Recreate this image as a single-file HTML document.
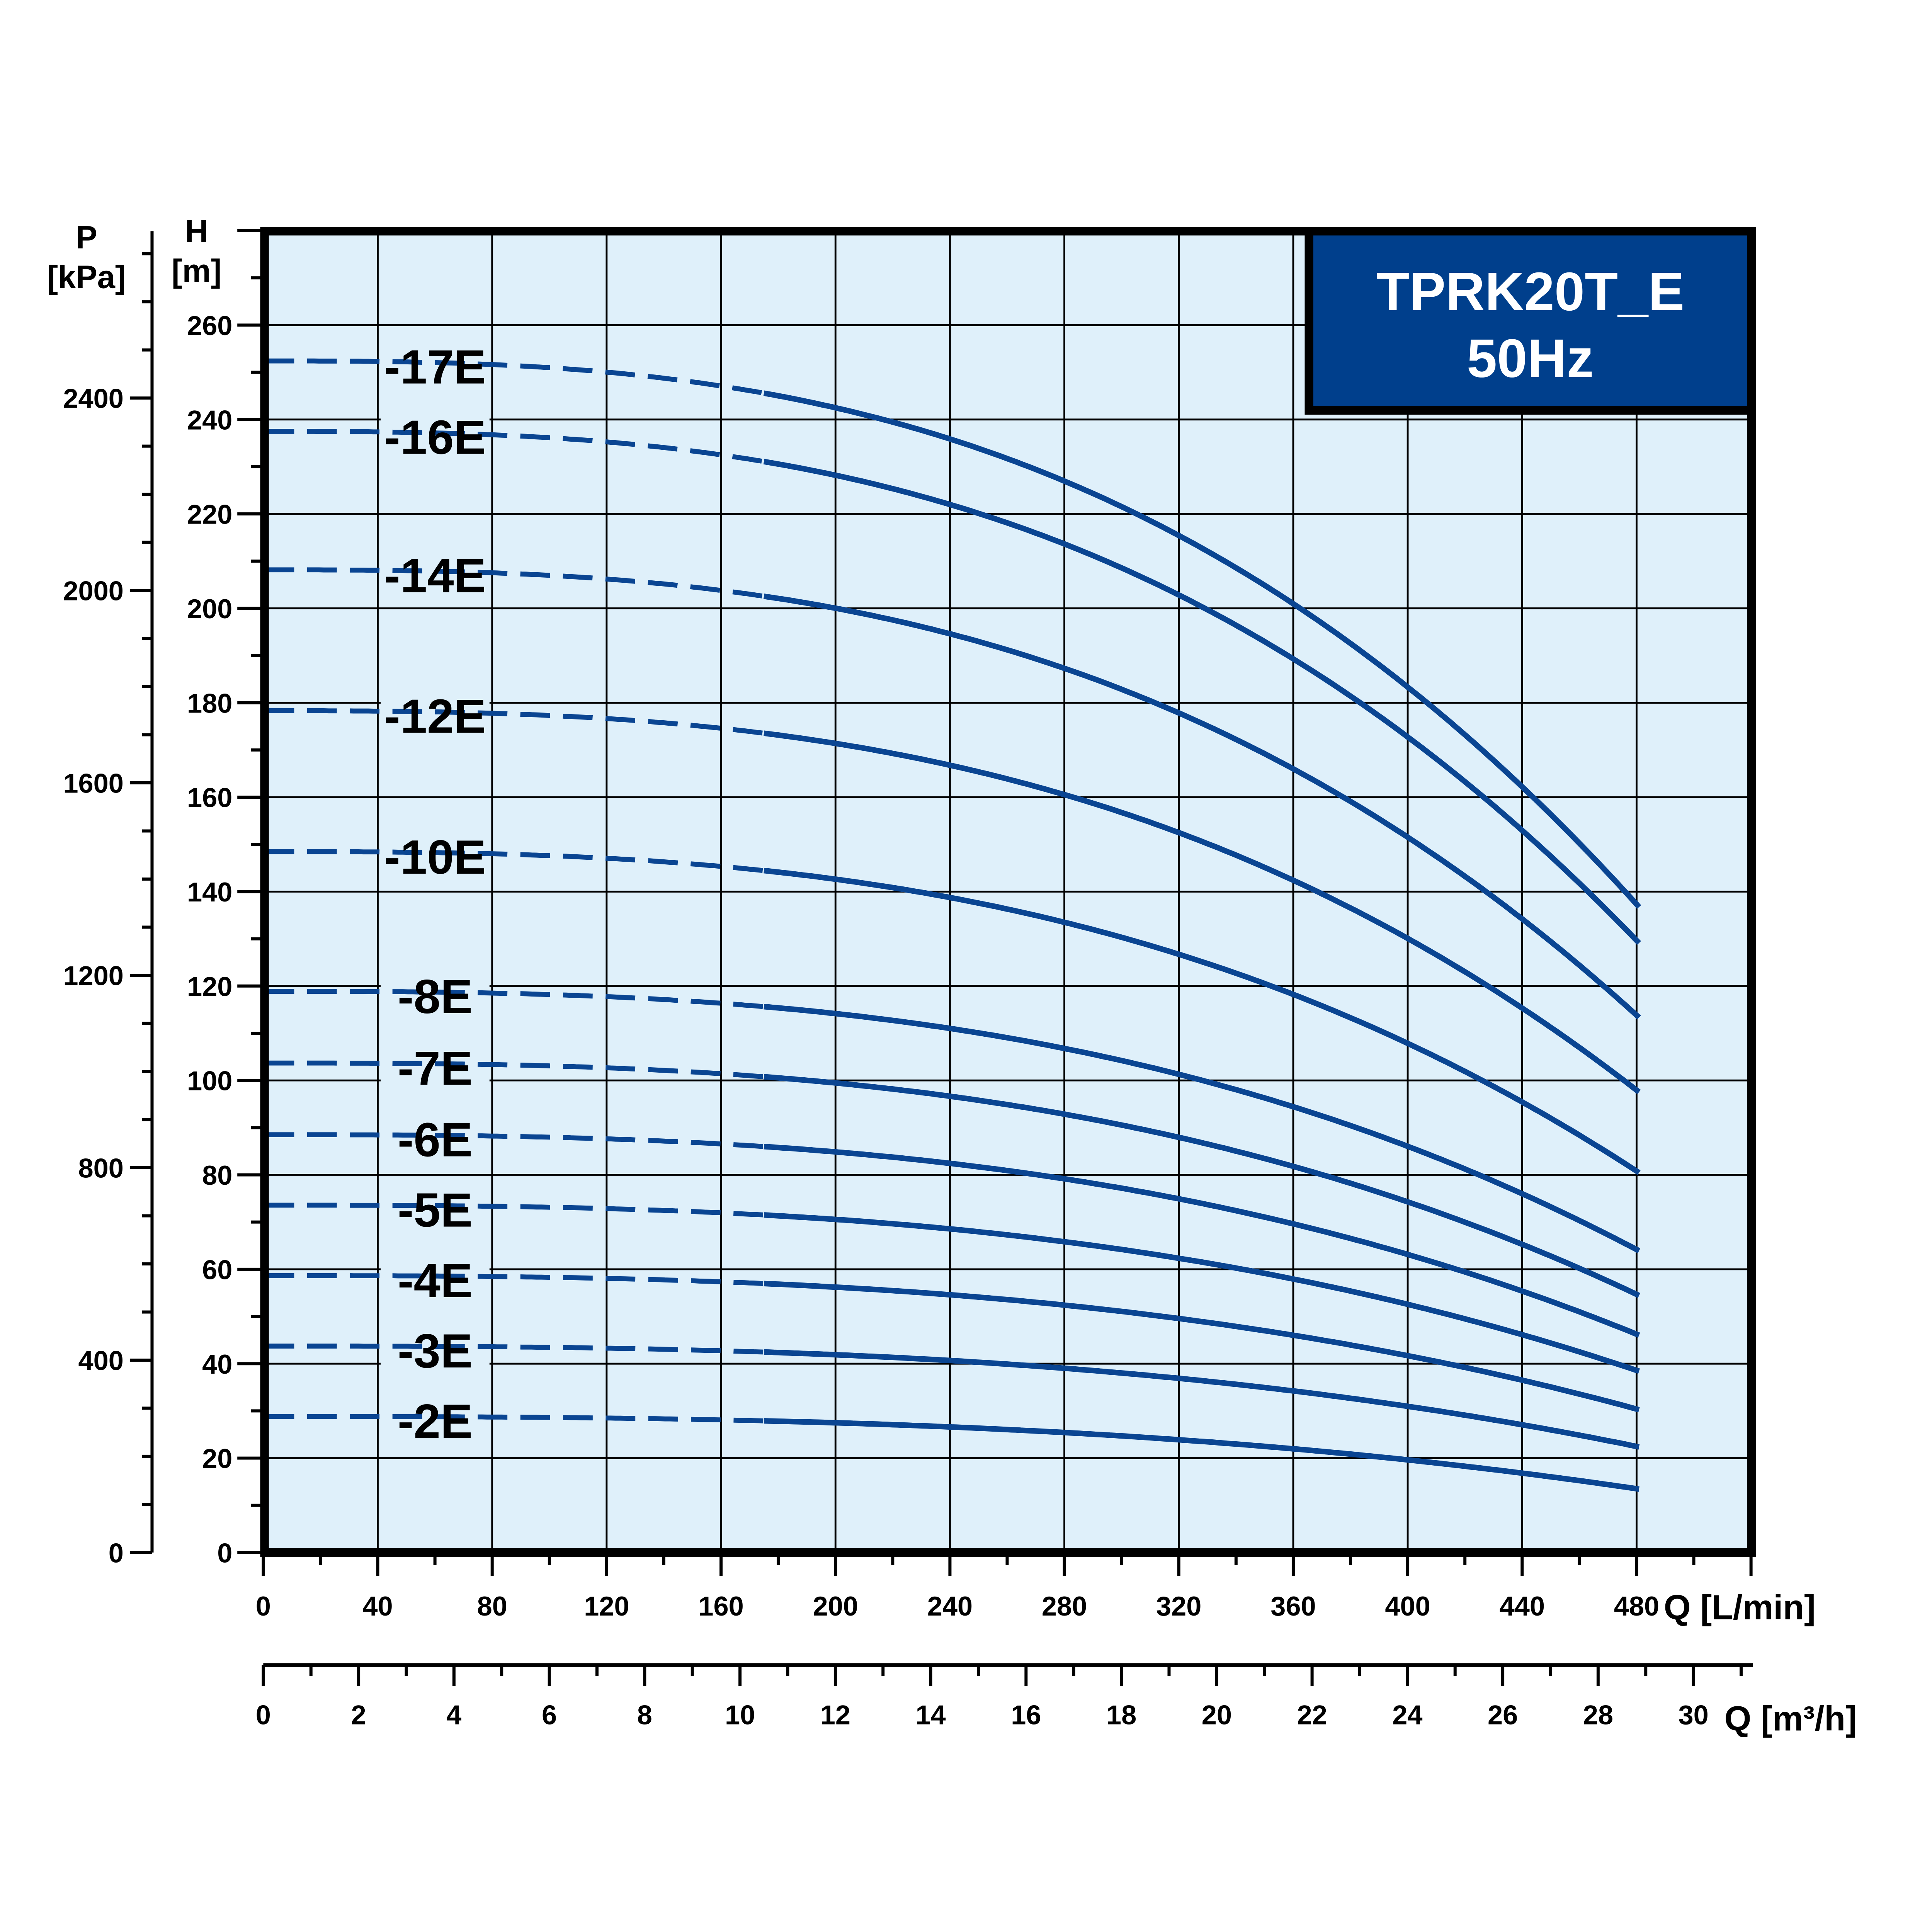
<!DOCTYPE html>
<html><head><meta charset="utf-8"><style>
html,body{margin:0;padding:0;background:#fff;width:100%;height:100%;overflow:hidden}
svg{display:block;position:fixed;left:0;top:0;width:100vw;height:100vh}
text{font-family:"Liberation Sans",sans-serif;font-weight:bold}
</style></head><body>
<svg id="s" viewBox="0 0 1563 1563" preserveAspectRatio="xMidYMid meet" xmlns="http://www.w3.org/2000/svg">
<rect x="0" y="0" width="1563" height="1563" fill="#fff"/>
<rect x="214" y="187" width="1204" height="1069" fill="#dff0fa"/>
<g id="grid" stroke="#000" stroke-width="1.5"></g>
<g id="ticks" stroke="#000"></g>
<g id="lbl"></g>
<g id="curves" fill="none" stroke="#0a4592" stroke-width="4.5"></g>
<rect x="214" y="187" width="1203" height="1069" fill="none" stroke="#000" stroke-width="7"/>
<rect x="1059" y="187" width="358" height="145" fill="#003f8c" stroke="#000" stroke-width="7"/>
<text x="1238" y="251" fill="#fff" font-size="44" text-anchor="middle">TPRK20T_E</text>
<text x="1238" y="305" fill="#fff" font-size="44" text-anchor="middle">50Hz</text>
<g id="txt" fill="#000"></g>
</svg>
<script>
var NS="http://www.w3.org/2000/svg";
function el(p,t,a,txt){var e=document.createElementNS(NS,t);for(var k in a)e.setAttribute(k,a[k]);if(txt!=null)e.textContent=txt;document.getElementById(p).appendChild(e);return e;}
var X0=213,XS=(1324-213)/480,Y0=1256,YS=(1256-263)/260;
for(var q=40;q<=520;q+=40){var x=X0+q*XS;if(x<1416)el('grid','line',{x1:x,y1:187,x2:x,y2:1256});}
for(var h=20;h<=260;h+=20){var y=Y0-h*YS;el('grid','line',{x1:214,y1:y,x2:1418,y2:y});}
for(var h=0;h<=280;h+=10){var y=Y0-h*YS;if(y<185)break;var big=h%20==0;el('ticks','line',{x1:big?192:203,y1:y,x2:214,y2:y,'stroke-width':2.5});
 if(big&&h<=260)el('txt','text',{x:188,y:y+8,'font-size':22,'text-anchor':'end'},h);}
el('ticks','line',{x1:123,y1:187,x2:123,y2:1256,'stroke-width':2.5});
var PS=(1256-322)/2400;
for(var p=0;p<=2700;p+=100){var y=Y0-p*PS;if(y<187)break;var big=p%400==0;el('ticks','line',{x1:big?105:115,y1:y,x2:123,y2:y,'stroke-width':2.5});
 if(big)el('txt','text',{x:100,y:y+8,'font-size':22,'text-anchor':'end'},p);}
el('txt','text',{x:70,y:201,'font-size':26,'text-anchor':'middle'},'P');
el('txt','text',{x:70,y:233,'font-size':26,'text-anchor':'middle'},'[kPa]');
el('txt','text',{x:159,y:196,'font-size':26,'text-anchor':'middle'},'H');
el('txt','text',{x:159,y:228,'font-size':26,'text-anchor':'middle'},'[m]');
for(var q=0;q<=520;q+=20){var x=X0+q*XS;if(x>1418)break;el('ticks','line',{x1:x,y1:1256,x2:x,y2:q%40==0?1275:1266,'stroke-width':2.5});
 if(q%40==0&&q<=480)el('txt','text',{x:x,y:1307,'font-size':22,'text-anchor':'middle'},q);}
el('txt','text',{x:1346,y:1310,'font-size':28},'Q [L/min]');
el('ticks','line',{x1:213,y1:1347,x2:1418,y2:1347,'stroke-width':3});
var MS=(1370-213)/30;
for(var m=0;m<=31;m++){var x=213+m*MS;if(x>1418)break;el('ticks','line',{x1:x,y1:1347,x2:x,y2:m%2==0?1364:1356,'stroke-width':2.5});
 if(m%2==0&&m<=30)el('txt','text',{x:x,y:1395,'font-size':22,'text-anchor':'middle'},m);}
el('txt','text',{x:1395,y:1400,'font-size':28},'Q [m³/h]');
var C=[['-17E',292,736],['-16E',349,765],['-14E',461,825],['-12E',575,885],['-10E',689,950],['-8E',802,1013],['-7E',860,1049],['-6E',918,1081],['-5E',975,1110],['-4E',1032,1141],['-3E',1089,1171],['-2E',1146,1205]];
C.forEach(function(c){
 var y0=c[1],y1=c[2];
 function Y(x){var f=(x-213)/(1328-213);return y0+(y1-y0)*Math.pow(f,2.8);}
 var d='',s='';
 for(var x=214;x<=620;x+=4)d+=(x==214?'M':'L')+x+','+Y(x).toFixed(1);
 for(var x=618;x<=1328;x+=4)s+=(x==618?'M':'L')+x+','+Y(x).toFixed(1);
 el('curves','path',{d:d,'stroke-dasharray':'24 10.5','stroke-width':4});
 el('curves','path',{d:s});
 var ly=Y(352)+3;
 el('lbl','rect',{x:308,y:ly-24,width:88,height:48,fill:'#dff0fa'});
 el('txt','text',{x:352,y:ly+14,'font-size':39,'text-anchor':'middle'},c[0]);
});
</script>
</body></html>
